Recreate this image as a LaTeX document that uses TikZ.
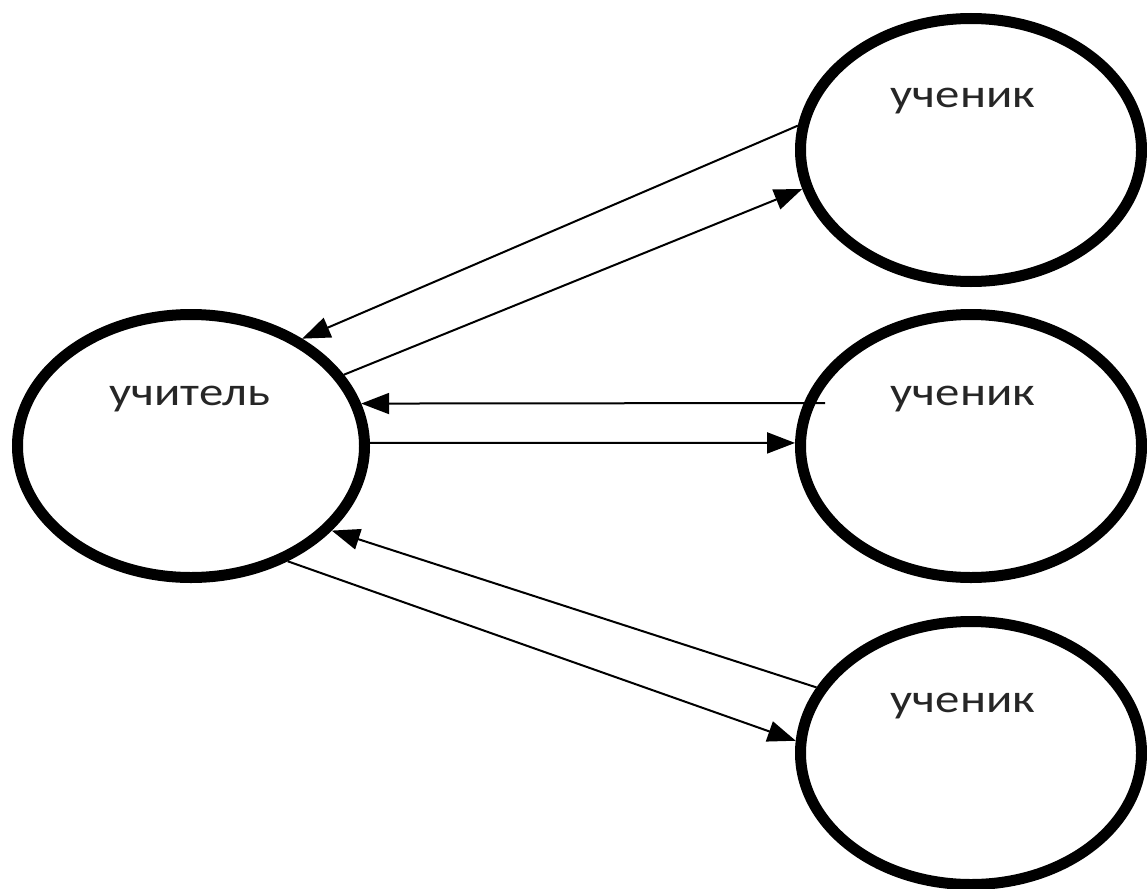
\documentclass[tikz,border=0pt]{standalone}
\usepackage{fontspec}
\setmainfont{Carlito}
\usetikzlibrary{arrows.meta,shapes.geometric}
\begin{document}
\begin{tikzpicture}[x=1pt,y=-1pt,
  ring/.style={draw=black,line width=11pt,ellipse,inner sep=0pt},
  tring/.style={ring,minimum width=347pt,minimum height=263pt},
  sring/.style={ring,minimum width=341pt,minimum height=263pt},
  lbl/.style={font=\fontsize{40}{44}\selectfont,text=black!85,xscale=1.22,inner sep=0pt},
  conn/.style={line width=2pt,-{Triangle[length=28pt,width=21pt]}},
  plain/.style={line width=2pt}]
\useasboundingbox (0,0) rectangle (1147,888);
\node[tring] (t) at (191,446) {};
\node[sring] (s1) at (971,150) {};
\node[sring] (s2) at (971,446) {};
\node[sring] (s3) at (971,753) {};
\node[lbl,anchor=base] (tl) at (190,405) {учитель};
\node[lbl,anchor=base] (l1) at (963,107) {ученик};
\node[lbl,anchor=base] (l2) at (963,405) {ученик};
\node[lbl,anchor=base] (l3) at (963,712) {ученик};
\coordinate (e3) at (825,403);
\draw[conn] (s1.172.8) -- (t.44.7);
\draw[conn] (t.25) -- (s1.-167.1);
\draw[conn] (e3) -- (t.14.7);
\draw[conn] (t.1) -- (s2.179);
\draw[conn] (s3.157.6) -- (t.-31);
\draw[conn] (t.-50.6) -- (s3.176.7);
\end{tikzpicture}
\end{document}
